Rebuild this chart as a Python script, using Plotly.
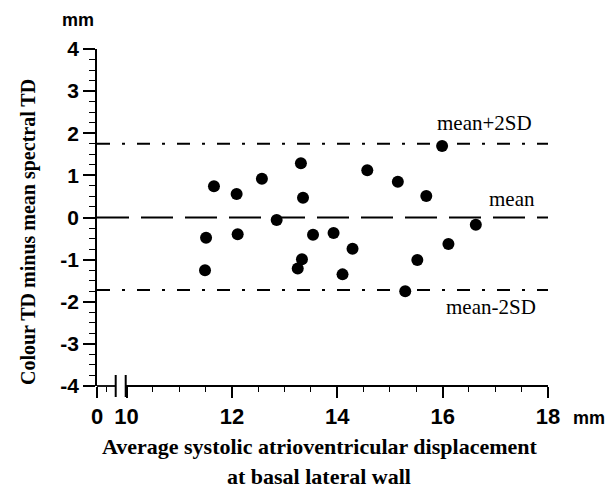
import plotly.graph_objects as go

# ---- data ----
avg_x = [11.66, 12.09, 12.57, 13.31, 13.35, 14.57, 11.51, 12.11, 12.85, 13.54,
         13.93, 14.29, 13.33, 13.25, 11.49, 14.10, 15.15, 15.69, 15.99, 16.63,
         16.11, 15.52, 15.29]
diff_y = [0.74, 0.56, 0.92, 1.29, 0.47, 1.12, -0.48, -0.40, -0.06, -0.41,
          -0.37, -0.74, -0.99, -1.21, -1.25, -1.35, 0.85, 0.51, 1.70, -0.17,
          -0.63, -1.01, -1.75]
mean_diff = 0.0
upper_lim = 1.75
lower_lim = -1.72

x_tickvals = [9.44, 10, 12, 14, 16, 18]
x_ticktext = ["0", "10", "12", "14", "16", "18"]
x_minor = [9.62] + [v / 2 for v in range(21, 36) if v % 4 != 0]
y_tickvals = [-4, -3, -2, -1, 0, 1, 2, 3, 4]
y_ticktext = [str(v) for v in y_tickvals]

XMIN, XMAX = 9.44, 18
YMIN, YMAX = -4, 4

fig = go.Figure()
fig.add_trace(go.Scatter(
    x=avg_x, y=diff_y, mode="markers",
    marker=dict(color="black", size=12, line=dict(width=0)),
    showlegend=False, cliponaxis=False))

# reference lines
fig.add_shape(type="line", xref="x", yref="y", x0=XMIN, x1=XMAX, y0=mean_diff, y1=mean_diff,
              line=dict(color="black", width=2, dash="32px,12px"))
for v in (upper_lim, lower_lim):
    fig.add_shape(type="line", xref="x", yref="y", x0=XMIN, x1=XMAX, y0=v, y1=v,
                  line=dict(color="black", width=2, dash="13px,12px,3px,12px"))

# broken x axis line (paper coordinates)
L, W = 97, 451
def px(p):
    return (p - L) / W
fig.add_shape(type="line", xref="paper", yref="paper", x0=0, x1=px(115.7), y0=0, y1=0,
              line=dict(color="black", width=1.8))
fig.add_shape(type="line", xref="paper", yref="paper", x0=px(125.7), x1=1, y0=0, y1=0,
              line=dict(color="black", width=1.8))
for bx in (115.7, 125.7):
    fig.add_shape(type="line", xref="paper", yref="paper", x0=px(bx), x1=px(bx),
                  y0=11 / 337, y1=-11 / 337, line=dict(color="black", width=2))

serif = "Liberation Serif, Times New Roman, serif"
sans = "Liberation Sans, Arial, sans-serif"

ann = []
ann.append(dict(text="mean+2SD", x=XMAX, y=upper_lim, xref="x", yref="y", xanchor="right",
                yanchor="middle", xshift=-14, yshift=21, showarrow=False,
                font=dict(family=serif, size=21, color="black")))
ann.append(dict(text="mean", x=XMAX, y=mean_diff, xref="x", yref="y", xanchor="right",
                yanchor="middle", xshift=-11, yshift=19, showarrow=False,
                font=dict(family=serif, size=21, color="black")))
ann.append(dict(text="mean-2SD", x=XMAX, y=lower_lim, xref="x", yref="y", xanchor="right",
                yanchor="middle", xshift=-10, yshift=-17, showarrow=False,
                font=dict(family=serif, size=21, color="black")))
ann.append(dict(text="mm", x=px(78), y=(386 - 20) / 337, xref="paper", yref="paper",
                xanchor="center", yanchor="middle", showarrow=False,
                font=dict(family=sans, size=18, color="black", weight="bold")))
ann.append(dict(text="mm", x=px(589), y=(386 - 418) / 337, xref="paper", yref="paper",
                xanchor="center", yanchor="middle", showarrow=False,
                font=dict(family=sans, size=18, color="black", weight="bold")))
ann.append(dict(text="Average systolic atrioventricular displacement", x=px(319),
                y=(386 - 446) / 337, xref="paper", yref="paper", xanchor="center",
                yanchor="middle", showarrow=False,
                font=dict(family=serif, size=22, color="black", weight="bold")))
ann.append(dict(text="at basal lateral wall", x=px(319), y=(386 - 476) / 337,
                xref="paper", yref="paper", xanchor="center", yanchor="middle",
                showarrow=False, font=dict(family=serif, size=22, color="black", weight="bold")))
ann.append(dict(text="Colour TD minus mean spectral TD", x=px(28), y=(386 - 232) / 337,
                xref="paper", yref="paper", xanchor="center", yanchor="middle",
                textangle=-90, showarrow=False,
                font=dict(family=serif, size=20, color="black", weight="bold")))

fig.update_layout(
    width=615, height=488,
    margin=dict(l=97, r=67, t=49, b=102),
    paper_bgcolor="white", plot_bgcolor="white",
    annotations=ann,
    xaxis=dict(range=[XMIN, XMAX], showline=False, showgrid=False, zeroline=False,
               tickmode="array", tickvals=x_tickvals, ticktext=x_ticktext,
               ticks="outside", ticklen=11, tickwidth=1.8, tickcolor="black",
               ticklabelstandoff=0,
               tickfont=dict(family=sans, size=22, color="black", weight="bold"),
               minor=dict(tickmode="array", tickvals=x_minor, ticks="outside",
                          ticklen=5, tickwidth=1.2, tickcolor="black", showgrid=False)),
    yaxis=dict(range=[YMIN, YMAX], showline=True, linecolor="black", linewidth=1.8,
               showgrid=False, zeroline=False,
               tickmode="array", tickvals=y_tickvals, ticktext=y_ticktext,
               ticks="outside", ticklen=12, tickwidth=1.8, tickcolor="black",
               tickfont=dict(family=sans, size=21, color="black", weight="bold"),
               minor=dict(dtick=0.25, tick0=0, ticks="outside", ticklen=6,
                          tickwidth=1.2, tickcolor="black", showgrid=False)),
)

fig.write_html("out.html", config={"displayModeBar": False},
               post_script="document.body.style.margin='0px';")
